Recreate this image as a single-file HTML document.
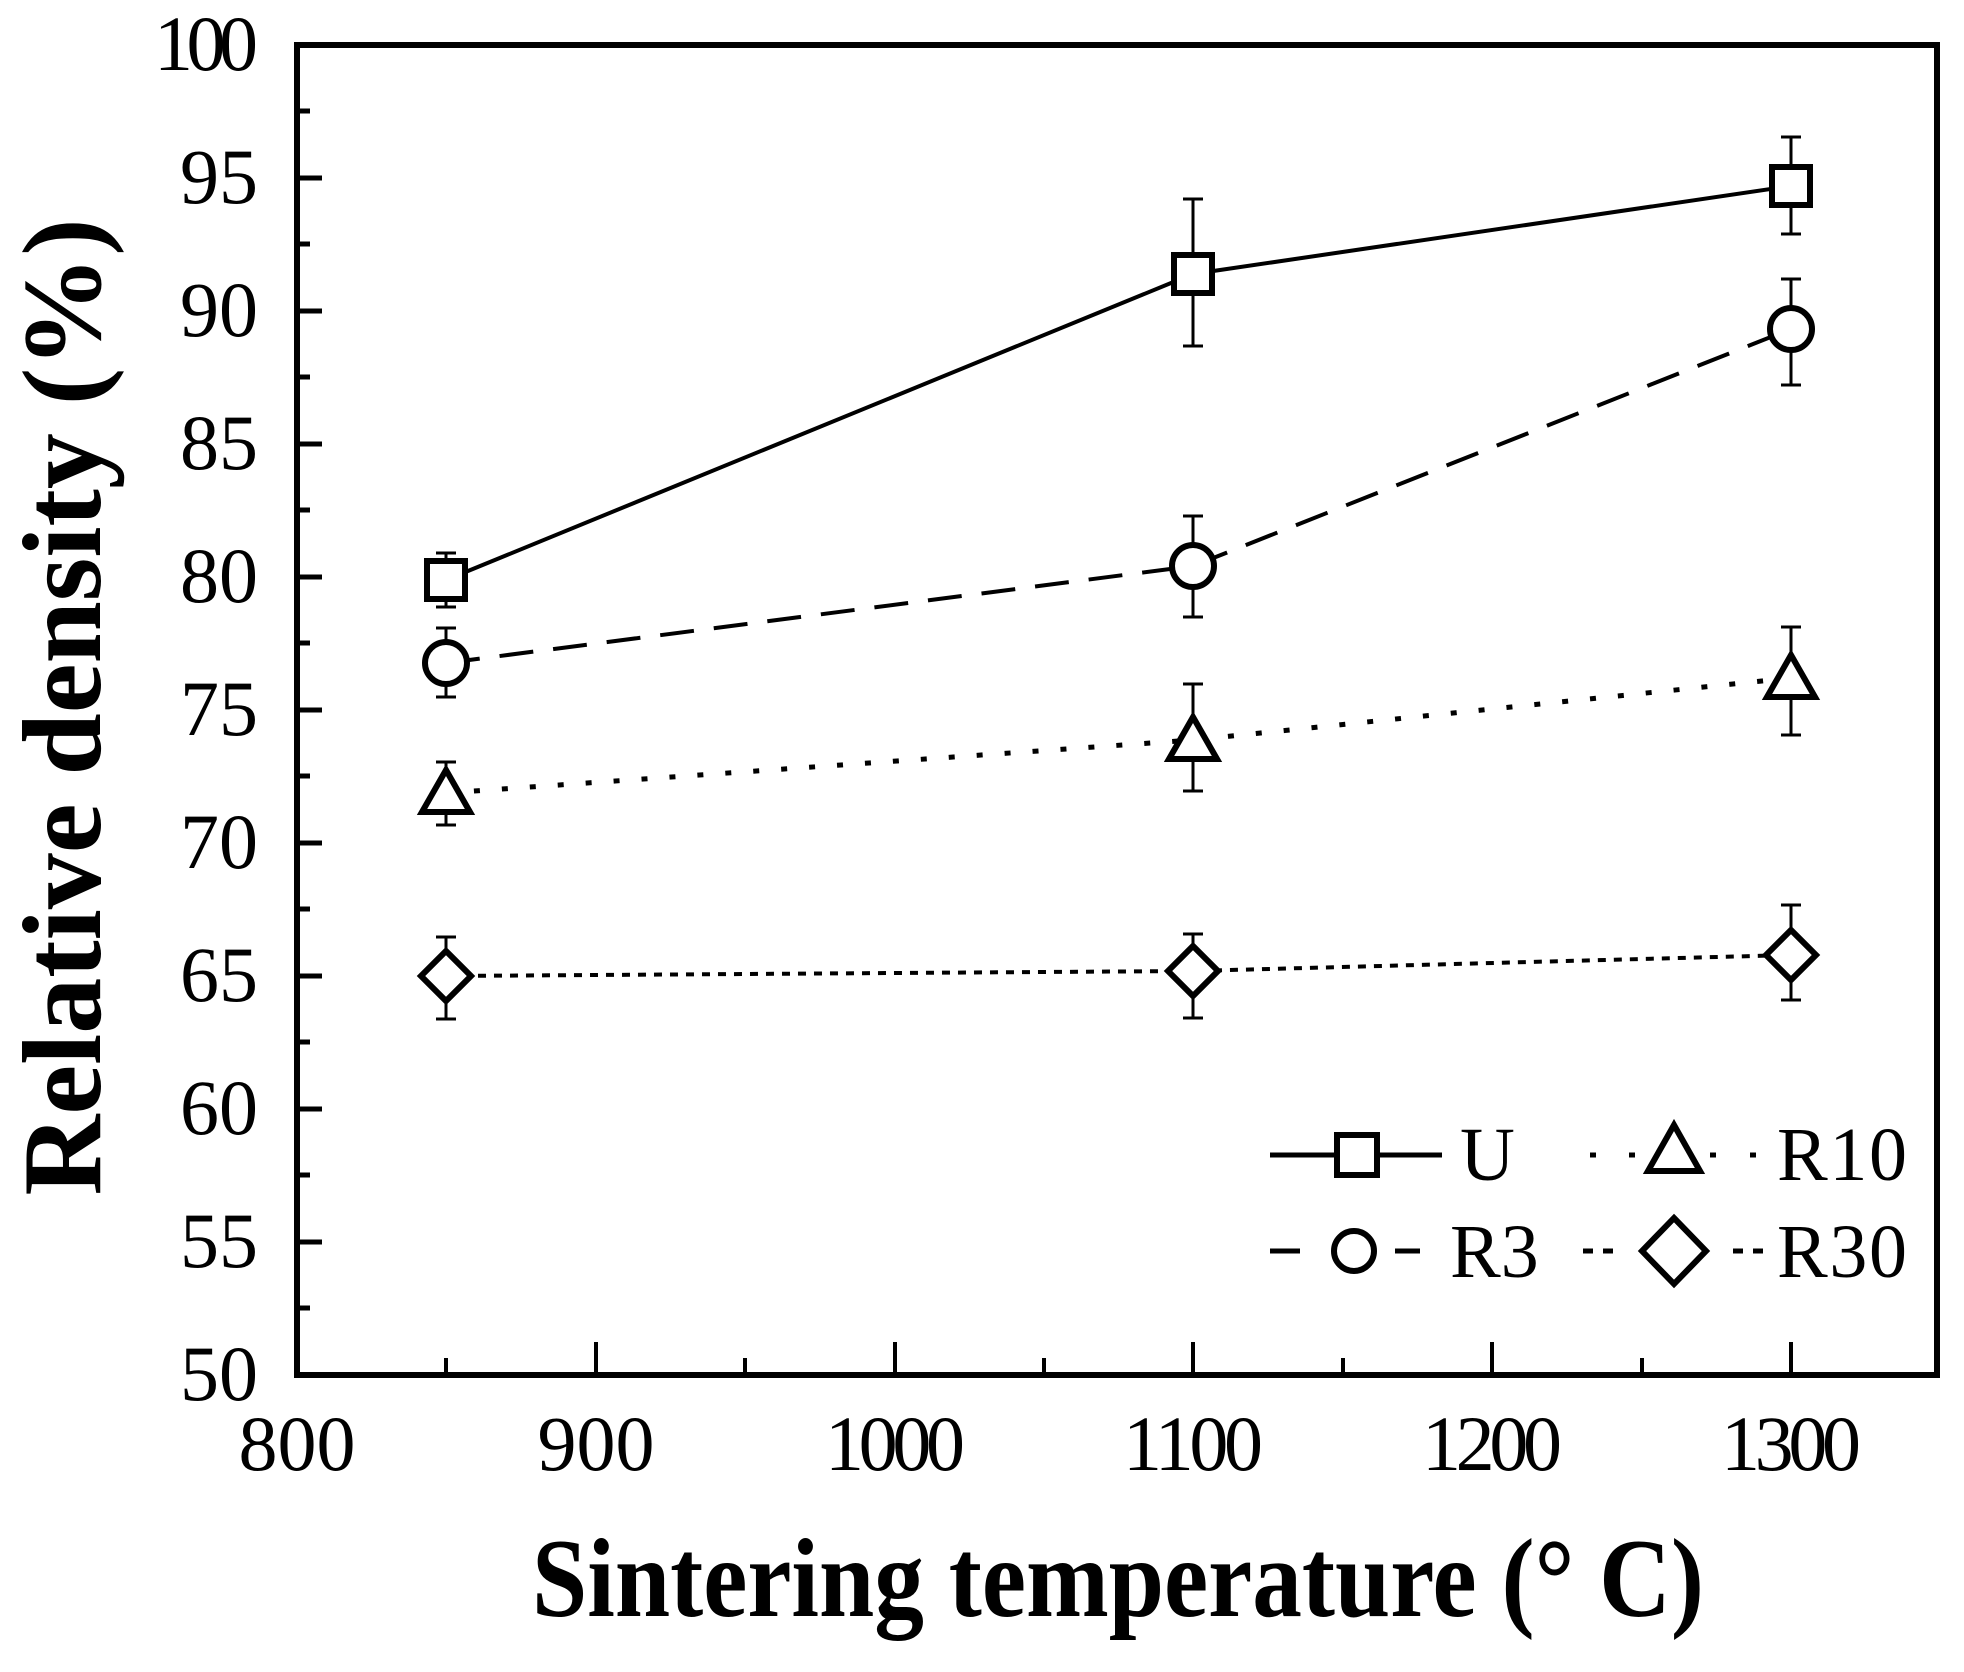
<!DOCTYPE html>
<html><head><meta charset="utf-8"><style>
html,body{margin:0;padding:0;background:#fff;}
svg{display:block;}
text{font-family:"Liberation Serif",serif;fill:#000;}
</style></head><body>
<svg width="1964" height="1672" viewBox="0 0 1964 1672" xmlns="http://www.w3.org/2000/svg">
<rect x="0" y="0" width="1964" height="1672" fill="#fff"/>
<rect x="297" y="45" width="1640" height="1330" fill="none" stroke="#000" stroke-width="6"/>
<g stroke="#000" stroke-width="5">
<line x1="297" y1="178" x2="322" y2="178"/><line x1="297" y1="311" x2="322" y2="311"/>
<line x1="297" y1="444" x2="322" y2="444"/><line x1="297" y1="577" x2="322" y2="577"/>
<line x1="297" y1="710" x2="322" y2="710"/><line x1="297" y1="843" x2="322" y2="843"/>
<line x1="297" y1="976" x2="322" y2="976"/><line x1="297" y1="1109" x2="322" y2="1109"/>
<line x1="297" y1="1242" x2="322" y2="1242"/>
<line x1="297" y1="111" x2="310" y2="111"/><line x1="297" y1="244" x2="310" y2="244"/>
<line x1="297" y1="377" x2="310" y2="377"/><line x1="297" y1="510" x2="310" y2="510"/>
<line x1="297" y1="643" x2="310" y2="643"/><line x1="297" y1="776" x2="310" y2="776"/>
<line x1="297" y1="909" x2="310" y2="909"/><line x1="297" y1="1042" x2="310" y2="1042"/>
<line x1="297" y1="1175" x2="310" y2="1175"/><line x1="297" y1="1308" x2="310" y2="1308"/>
</g>
<g stroke="#000" stroke-width="4">
<line x1="596" y1="1375" x2="596" y2="1342"/><line x1="895" y1="1375" x2="895" y2="1342"/>
<line x1="1193" y1="1375" x2="1193" y2="1342"/><line x1="1492" y1="1375" x2="1492" y2="1342"/>
<line x1="1791" y1="1375" x2="1791" y2="1342"/>
<line x1="446" y1="1375" x2="446" y2="1358"/><line x1="745" y1="1375" x2="745" y2="1358"/>
<line x1="1044" y1="1375" x2="1044" y2="1358"/><line x1="1343" y1="1375" x2="1343" y2="1358"/>
<line x1="1642" y1="1375" x2="1642" y2="1358"/>
</g>
<g font-size="78" text-anchor="end">
<text x="258" y="70" textLength="104">100</text>
<text x="258" y="203">95</text><text x="258" y="336">90</text><text x="258" y="469">85</text>
<text x="258" y="602">80</text><text x="258" y="735">75</text><text x="258" y="868">70</text>
<text x="258" y="1001">65</text><text x="258" y="1134">60</text><text x="258" y="1267">55</text>
<text x="258" y="1400">50</text>
</g>
<g font-size="78" text-anchor="middle">
<text x="297" y="1470">800</text><text x="596" y="1470">900</text>
<text x="895" y="1470" textLength="140">1000</text><text x="1193" y="1470" textLength="140">1100</text>
<text x="1492" y="1470" textLength="140">1200</text><text x="1791" y="1470" textLength="140">1300</text>
</g>
<text x="1118" y="1616" font-size="112" font-weight="bold" text-anchor="middle" textLength="1172" lengthAdjust="spacingAndGlyphs">Sintering temperature (° C)</text>
<text transform="translate(100,707) rotate(-90)" font-size="112" font-weight="bold" text-anchor="middle" textLength="977" lengthAdjust="spacingAndGlyphs">Relative density (%)</text>
<g fill="none" stroke="#000" stroke-width="4">
<polyline points="446,580 1193,274 1791,186"/>
<polyline points="446,663 1193,566 1791,329" stroke-dasharray="34,20"/>
<polyline points="446,793 1193,740 1791,678" stroke-dasharray="6,22" stroke-width="5"/>
<polyline points="446,976 1193,971 1791,955" stroke-dasharray="8,8"/>
</g>
<g stroke="#000" stroke-width="3" fill="none">
<path d="M446,553V607M436,553H456M436,607H456"/>
<path d="M1193,199V346M1183,199H1203M1183,346H1203"/>
<path d="M1791,137V234M1781,137H1801M1781,234H1801"/>
<path d="M446,628V697M436,628H456M436,697H456"/>
<path d="M1193,516V617M1183,516H1203M1183,617H1203"/>
<path d="M1791,279V385M1781,279H1801M1781,385H1801"/>
<path d="M446,762V825M436,762H456M436,825H456"/>
<path d="M1193,684V791M1183,684H1203M1183,791H1203"/>
<path d="M1791,627V735M1781,627H1801M1781,735H1801"/>
<path d="M446,937V1019M436,937H456M436,1019H456"/>
<path d="M1193,934V1018M1183,934H1203M1183,1018H1203"/>
<path d="M1791,905V1000M1781,905H1801M1781,1000H1801"/>
</g>
<g fill="#fff" stroke="#000" stroke-width="6">
<rect x="427" y="561" width="38" height="38"/><rect x="1174" y="255" width="38" height="38"/><rect x="1772" y="167" width="38" height="38"/>
<circle cx="446" cy="663" r="21"/><circle cx="1193" cy="566" r="21"/><circle cx="1791" cy="329" r="21"/>
<path d="M446,770L470,812H422Z"/><path d="M1193,717L1217,759H1169Z"/><path d="M1791,655L1815,697H1767Z"/>
<path d="M446,951L471,976L446,1001L421,976Z"/><path d="M1193,946L1218,971L1193,996L1168,971Z"/><path d="M1791,930L1816,955L1791,980L1766,955Z"/>
</g>
<g stroke="#000" stroke-width="5" fill="none">
<line x1="1270" y1="1155" x2="1335" y2="1155"/><line x1="1379" y1="1155" x2="1442" y2="1155"/>
<line x1="1270" y1="1251" x2="1300" y2="1251"/><line x1="1395" y1="1251" x2="1420" y2="1251"/>
<line x1="1590" y1="1155" x2="1596" y2="1155"/><line x1="1629" y1="1155" x2="1635" y2="1155"/>
<line x1="1710" y1="1155" x2="1716" y2="1155"/><line x1="1750" y1="1155" x2="1756" y2="1155"/>
<line x1="1583" y1="1251" x2="1593" y2="1251"/><line x1="1603" y1="1251" x2="1613" y2="1251"/>
<line x1="1733" y1="1251" x2="1743" y2="1251"/><line x1="1753" y1="1251" x2="1763" y2="1251"/>
</g>
<g fill="#fff" stroke="#000" stroke-width="6">
<rect x="1337" y="1135" width="40" height="40"/>
<circle cx="1354" cy="1251" r="20"/>
<path d="M1674,1125L1700,1171H1648Z"/>
<path d="M1674,1218L1706,1251L1674,1284L1642,1251Z"/>
</g>
<g font-size="76">
<text x="1460" y="1180">U</text><text x="1450" y="1277">R3</text>
<text x="1777" y="1180" textLength="130">R10</text><text x="1777" y="1277" textLength="130">R30</text>
</g>
</svg>
</body></html>
